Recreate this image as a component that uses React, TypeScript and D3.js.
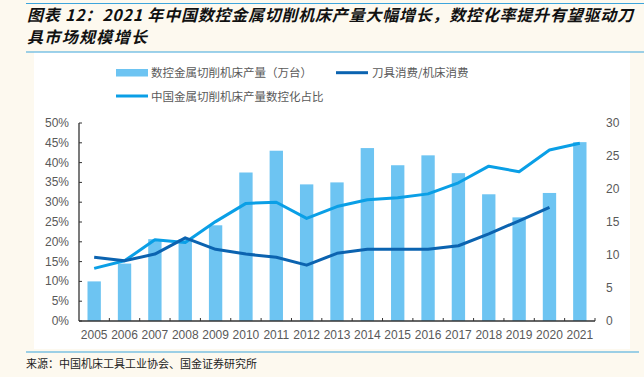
import React from "react";
import * as d3 from "d3";

const years = ["2005","2006","2007","2008","2009","2010","2011","2012","2013","2014","2015","2016","2017","2018","2019","2020","2021"];
const output = [6.0, 8.7, 12.4, 12.4, 14.5, 22.5, 25.8, 20.7, 21.0, 26.2, 23.6, 25.1, 22.4, 19.2, 15.7, 19.4, 27.1];
const ncRate = [13.3, 15.2, 20.5, 19.8, 25.1, 29.7, 30.0, 25.9, 28.9, 30.6, 31.1, 32.1, 34.9, 39.1, 37.7, 43.2, 44.9];
const toolRatio: (number | null)[] = [16.1, 15.2, 16.9, 21.0, 18.1, 16.9, 16.1, 14.1, 17.1, 18.1, 18.1, 18.1, 19.0, 22.0, 25.3, 28.7, null];
const leftTicks = [0, 5, 10, 15, 20, 25, 30, 35, 40, 45, 50];
const rightTicks = [0, 5, 10, 15, 20, 25, 30];

const seriesNames = ["数控金属切削机床产量（万台）", "刀具消费/机床消费", "中国金属切削机床产量数控化占比"];
const titleLine1 = "图表 12：2021 年中国数控金属切削机床产量大幅增长，数控化率提升有望驱动刀";
const titleLine2 = "具市场规模增长";
const sourceText = "来源：中国机床工具工业协会、国金证券研究所";

const BAR = "#6DC4F2";
const LIGHT = "#0A9FE6";
const DARK = "#0B63B0";
const TXT = "#595959";
const CJK = "'Noto Sans CJK SC', 'Noto Sans', sans-serif";
const NUM = "'Liberation Sans', Arial, sans-serif";

export default function App() {
  const W = 644, H = 377;
  const x0 = 79, x1 = 595, yTop = 123, yBot = 321;
  const x = d3.scaleBand<string>().domain(years).range([x0, x1]).paddingInner(0.56).paddingOuter(0.28);
  const yL = d3.scaleLinear().domain([0, 50]).range([yBot, yTop]);
  const yR = d3.scaleLinear().domain([0, 30]).range([yBot, yTop]);
  const cx = (y: string) => (x(y) as number) + x.bandwidth() / 2;
  const step = x.step();

  const lineGen = d3.line<[string, number | null]>()
    .defined(d => d[1] !== null)
    .x(d => cx(d[0]))
    .y(d => yL(d[1] as number));

  const lightPath = lineGen(years.map((y, i) => [y, ncRate[i]]));
  const darkPath = lineGen(years.map((y, i) => [y, toolRatio[i]]));

  return (
    <svg width={W} height={H} style={{ position: "absolute", left: 0, top: 0 }}>
      <rect x={0} y={0} width={W} height={H} fill="#FDF9EF" />
      <rect x={34} y={52} width={596} height={297} fill="#FFFFFF" />
      <line x1={26} x2={644} y1={3.5} y2={3.5} stroke="#3DA5DC" strokeWidth={1.2} />
      <line x1={26} x2={644} y1={52} y2={52} stroke="#3DA5DC" strokeWidth={1.2} />
      <line x1={26} x2={639} y1={352} y2={352} stroke="#3DA5DC" strokeWidth={1.2} />

      <text x={27} y={21} fontFamily={CJK} fontSize={16} fontWeight="bold" fontStyle="italic" fill="#111" textLength={606} lengthAdjust="spacing">{titleLine1}</text>
      <text x={27} y={43} fontFamily={CJK} fontSize={16} fontWeight="bold" fontStyle="italic" fill="#111" textLength={120} lengthAdjust="spacing">{titleLine2}</text>
      <text x={26} y={368} fontFamily={CJK} fontSize={11} fill="#222">{sourceText}</text>

      {/* legend */}
      <rect x={116} y={69} width={32} height={7.5} fill={BAR} />
      <text x={151} y={77} fontFamily={CJK} fontSize={11.5} fill={TXT}>{seriesNames[0]}</text>
      <line x1={336} x2={368} y1={72.7} y2={72.7} stroke={DARK} strokeWidth={3} />
      <text x={372} y={77} fontFamily={CJK} fontSize={11.5} fill={TXT}>{seriesNames[1]}</text>
      <line x1={116} x2={148} y1={96} y2={96} stroke={LIGHT} strokeWidth={3} />
      <text x={151} y={100.5} fontFamily={CJK} fontSize={11.5} fill={TXT}>{seriesNames[2]}</text>

      {/* bars */}
      {years.map((y, i) => (
        <rect key={y} x={x(y)} y={yR(output[i])} width={x.bandwidth()} height={yBot - yR(output[i])} fill={BAR} />
      ))}

      {/* lines */}
      <path d={lightPath || ""} fill="none" stroke={LIGHT} strokeWidth={3} strokeLinejoin="round" />
      <path d={darkPath || ""} fill="none" stroke={DARK} strokeWidth={3} strokeLinejoin="round" />

      {/* left axis */}
      <line x1={x0} x2={x0} y1={yTop} y2={yBot} stroke="#333" strokeWidth={1.3} />
      {leftTicks.map(t => (
        <g key={t}>
          <line x1={x0} x2={x0 + 3} y1={yL(t)} y2={yL(t)} stroke="#333" strokeWidth={1} />
          <text x={69} y={yL(t) + 4} textAnchor="end" fontFamily={NUM} fontSize={12} fill={TXT}>{t}%</text>
        </g>
      ))}
      {/* right axis labels */}
      {rightTicks.map(t => (
        <text key={t} x={606} y={yR(t) + 4} fontFamily={NUM} fontSize={12} fill={TXT}>{t}</text>
      ))}
      {/* x axis */}
      <line x1={x0} x2={x1} y1={yBot} y2={yBot} stroke="#333" strokeWidth={1.5} />
      {years.map((y, i) => (
        <g key={y}>
          <line x1={x0 + (i + 1) * step} x2={x0 + (i + 1) * step} y1={yBot} y2={yBot - 3} stroke="#333" strokeWidth={1} />
          <text x={cx(y)} y={339} textAnchor="middle" fontFamily={NUM} fontSize={12} fill={TXT}>{y}</text>
        </g>
      ))}
    </svg>
  );
}
